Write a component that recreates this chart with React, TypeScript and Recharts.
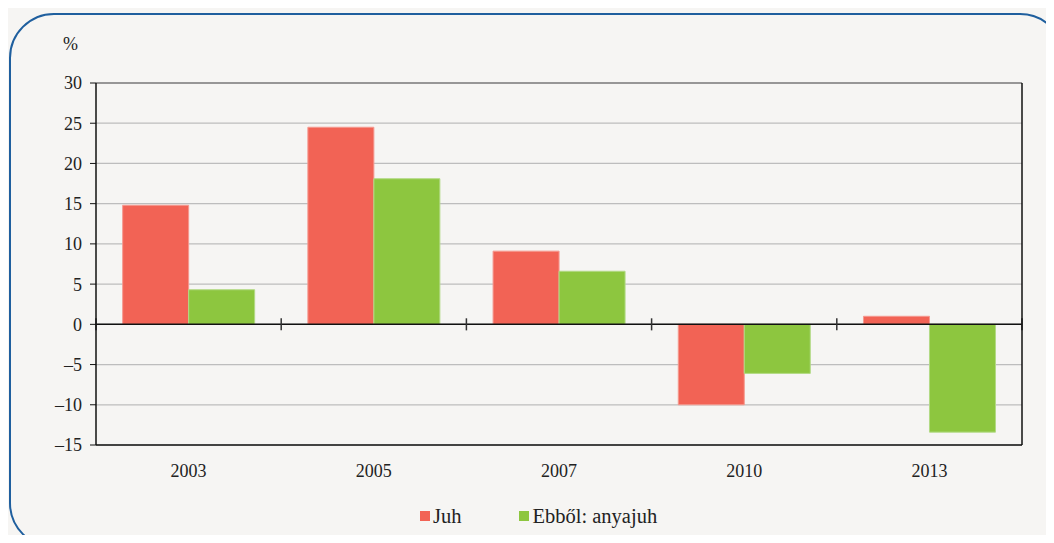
import { BarChart, Bar, XAxis, YAxis, CartesianGrid, ReferenceLine } from "recharts";

const years = ["2003", "2005", "2007", "2010", "2013"];
const juh = [14.8, 24.5, 9.1, -10.0, 1.0];
const anyajuh = [4.3, 18.1, 6.6, -6.1, -13.4];
const yTicks = [-15, -10, -5, 0, 5, 10, 15, 20, 25, 30];
const dividers = [0, 1, 2, 3, 4, 5];

const chartData = years.map((year, i) => ({ year, juh: juh[i], anyajuh: anyajuh[i], pos: i + 0.5 }));

const FONT = "'Liberation Serif', 'DejaVu Serif', serif";
const RED = "#f26355";
const GREEN = "#8dc63f";

const fmt = (v: number) => (v < 0 ? `\u2013${Math.abs(v)}` : `${v}`);

function LegendBox() {
  const item = (color: string, label: string, gap: number) => (
    <span style={{ display: "inline-flex", alignItems: "center", marginRight: gap }}>
      <span style={{ width: 10, height: 10, background: color, display: "inline-block", marginRight: 3 }} />
      <span>{label}</span>
    </span>
  );
  return (
    <div style={{ position: "absolute", left: 420, top: 503, fontFamily: FONT, fontSize: 20.5, color: "#222", whiteSpace: "nowrap" }}>
      {item(RED, "Juh", 58)}
      {item(GREEN, "Ebből: anyajuh", 0)}
    </div>
  );
}

export default function App() {
  return (
    <div style={{ position: "relative", width: 1054, height: 543, margin: -8, background: "#f6f5f3", overflow: "hidden" }}>
      <div
        style={{
          position: "absolute",
          left: 9,
          top: 13,
          width: 1056,
          height: 535,
          border: "2px solid #1f5f9e",
          borderRadius: 45,
          boxSizing: "border-box",
        }}
      />
      <div style={{ position: "absolute", left: 63, top: 34, fontFamily: FONT, fontSize: 18, color: "#222" }}>%</div>
      <div style={{ position: "absolute", left: 0, top: 0 }}>
        <BarChart
          width={1054}
          height={543}
          data={chartData}
          margin={{ top: 83, right: 30, left: 36, bottom: 68 }}
          barCategoryGap="14.4%"
          barGap={0}
        >
          <CartesianGrid vertical={false} stroke="#bdbdbd" strokeWidth={1.2} yAxisId="l" xAxisId="c" />
          <XAxis
            dataKey="year"
            xAxisId="c"
            tickLine={false}
            axisLine={{ stroke: "#111", strokeWidth: 1.5 }}
            tick={{ fontFamily: FONT, fontSize: 18, fill: "#222" }}
            tickMargin={13}
            height={30}
          />
          <XAxis xAxisId="n" dataKey="pos" type="number" domain={[0, 5]} allowDataOverflow hide />
          <YAxis
            yAxisId="l"
            domain={[-15, 30]}
            ticks={yTicks}
            tickFormatter={fmt}
            width={60}
            tickSize={6}
            tickLine={{ stroke: "#111" }}
            axisLine={{ stroke: "#111", strokeWidth: 1.5 }}
            tick={{ fontFamily: FONT, fontSize: 18, fill: "#222" }}
            tickMargin={8}
            interval={0}
          />
          <YAxis
            yAxisId="r"
            orientation="right"
            domain={[-15, 30]}
            tick={false}
            tickLine={false}
            axisLine={{ stroke: "#111", strokeWidth: 1.5 }}
            width={2}
          />
          <ReferenceLine yAxisId="l" xAxisId="c" y={30} stroke="#555" strokeWidth={1.2} />
          <Bar dataKey="juh" xAxisId="c" yAxisId="l" fill={RED} stroke="#f59a90" strokeWidth={1} isAnimationActive={false} />
          <Bar dataKey="anyajuh" xAxisId="c" yAxisId="l" fill={GREEN} stroke="#b2da85" strokeWidth={1} isAnimationActive={false} />
          <ReferenceLine yAxisId="l" xAxisId="c" y={0} stroke="#111" strokeWidth={1.5} />
          {dividers.map((d) => (
            <ReferenceLine
              key={d}
              xAxisId="n"
              yAxisId="l"
              segment={[{ x: d, y: -0.75 }, { x: d, y: 0.75 }]}
              stroke="#333"
              strokeWidth={1.5}
            />
          ))}
        </BarChart>
      </div>
      <LegendBox />
    </div>
  );
}
